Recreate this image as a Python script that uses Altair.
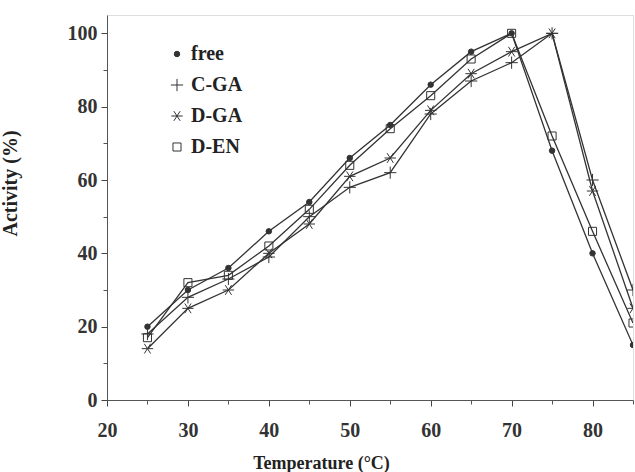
import altair as alt
import pandas as pd

temps = [25, 30, 35, 40, 45, 50, 55, 60, 65, 70, 75, 80, 85]
free = [20, 30, 36, 46, 54, 66, 75, 86, 95, 100, 68, 40, 15]
c_ga = [18, 28, 33, 39, 50, 58, 62, 78, 87, 92, 100, 60, 30]
d_ga = [14, 25, 30, 40, 48, 61, 66, 79, 89, 95, 100, 57, 25]
d_en = [17, 32, 34, 42, 52, 64, 74, 83, 93, 100, 72, 46, 21]
series_names = ["free", "C-GA", "D-GA", "D-EN"]

rows = []
for name, vals in zip(series_names, [free, c_ga, d_ga, d_en]):
    for t, v in zip(temps, vals):
        rows.append({"Temperature": t, "Activity": v, "series": name})
df = pd.DataFrame(rows)

FONT = "Liberation Serif"
plus_path = "M-1,0H1M0,-1V1"
star_path = "M-1,0H1M-0.55,-0.85L0.55,0.85M-0.55,0.85L0.55,-0.85"

xscale = alt.Scale(domain=[20, 85], nice=False, zero=False)
yscale = alt.Scale(domain=[0, 105], nice=False)

legend = alt.Legend(title=None, orient="none", legendX=60, legendY=29,
                    labelFont=FONT, labelFontSize=20, labelFontWeight="bold",
                    labelColor="#222", symbolStrokeWidth=1, labelOffset=4,
                    rowPadding=11)

base = alt.Chart(df)

lines = base.mark_line(color="#333333", strokeWidth=1.3, clip=True).encode(
    x=alt.X("Temperature:Q", scale=xscale,
            axis=alt.Axis(values=[20, 30, 40, 50, 60, 70, 80], title="Temperature (°C)",
                          titleX=214, titleY=54, titleFontSize=18, titleFontWeight="bold",
                          titleFont=FONT, labelFont=FONT, labelFontSize=20, labelFontWeight="bold",
                          labelPadding=14, tickSize=6, tickColor="#444", domainColor="#555",
                          labelColor="#333", titleColor="#222", grid=False, labelFlush=False)),
    y=alt.Y("Activity:Q", scale=yscale,
            axis=alt.Axis(values=[0, 20, 40, 60, 80, 100], title="Activity (%)",
                          titleX=-87, titleY=168, titleAngle=-90, titleFontSize=20,
                          titleFontWeight="bold", titleFont=FONT, labelFont=FONT,
                          labelFontSize=20, labelFontWeight="bold", labelPadding=4,
                          tickSize=6, tickColor="#444", domainColor="#555",
                          labelColor="#333", titleColor="#222", grid=False, labelFlush=False)),
    detail="series:N",
)

points = base.mark_point(strokeWidth=1, clip=True, opacity=1).encode(
    x=alt.X("Temperature:Q", scale=xscale, axis=None),
    y=alt.Y("Activity:Q", scale=yscale, axis=None),
    shape=alt.Shape("series:N", sort=series_names,
                    scale=alt.Scale(domain=series_names,
                                    range=["circle", plus_path, star_path, "square"]),
                    legend=legend),
    fill=alt.Fill("series:N", sort=series_names,
                  scale=alt.Scale(domain=series_names,
                                  range=["#333333", "transparent", "transparent", "transparent"]),
                  legend=legend),
    stroke=alt.Stroke("series:N", sort=series_names,
                      scale=alt.Scale(domain=series_names,
                                      range=["#333333", "#333333", "#333333", "#333333"]),
                      legend=legend),
    size=alt.Size("series:N", sort=series_names,
                  scale=alt.Scale(type="ordinal", domain=series_names, range=[30, 150, 130, 65]),
                  legend=legend),
)

# minor ticks
minor = base.mark_point(opacity=0).encode(
    x=alt.X("Temperature:Q", scale=xscale,
            axis=alt.Axis(values=[25, 35, 45, 55, 65, 75, 85], labels=False, title=None,
                          domain=False, tickSize=4, tickColor="#555", grid=False,
                          orient="bottom")),
    y=alt.Y("Activity:Q", scale=yscale,
            axis=alt.Axis(values=[10, 30, 50, 70, 90], labels=False, title=None,
                          domain=False, tickSize=4, tickColor="#555", grid=False,
                          orient="left")),
)

chart = alt.layer(lines, points, minor).resolve_axis(x="independent", y="independent").properties(
    width=526, height=385,
    autosize=alt.AutoSizeParams(type="none"),
    padding={"left": 107, "top": 15, "right": 2, "bottom": 72},
).configure_view(stroke="#777", strokeWidth=1).configure(background="white")

chart.save("out.html", embed_options={"renderer": "svg", "actions": False})
